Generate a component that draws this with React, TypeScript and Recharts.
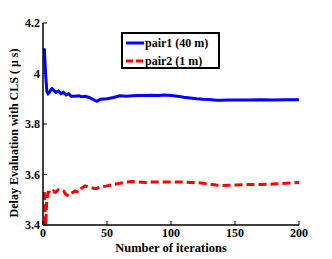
import React from 'react';
import { LineChart, Line, XAxis, YAxis, Label } from 'recharts';

const iterations = [1,2,3,4,5,6,7,8,9,10,12,14,16,18,20,22,25,28,30,33,36,40,42,45,50,55,60,65,70,75,80,85,90,95,100,105,110,115,120,125,130,135,140,145,150,160,170,180,190,200];
const pair1 = [4.10,4.00,3.93,3.92,3.925,3.935,3.94,3.935,3.93,3.925,3.93,3.92,3.925,3.915,3.92,3.91,3.91,3.912,3.908,3.91,3.905,3.895,3.89,3.898,3.9,3.905,3.912,3.91,3.912,3.913,3.913,3.914,3.913,3.915,3.913,3.91,3.906,3.903,3.9,3.898,3.897,3.894,3.894,3.895,3.895,3.895,3.896,3.895,3.896,3.896];
const pair2 = [3.53,3.40,3.50,3.53,3.53,3.525,3.53,3.535,3.53,3.53,3.54,3.54,3.535,3.52,3.515,3.525,3.535,3.53,3.545,3.555,3.55,3.545,3.545,3.55,3.555,3.56,3.565,3.57,3.572,3.57,3.568,3.57,3.57,3.57,3.57,3.57,3.57,3.568,3.568,3.565,3.562,3.558,3.556,3.557,3.558,3.56,3.56,3.562,3.565,3.568];
const xTicks = [0, 50, 100, 150, 200];
const yTicks = [3.4, 3.6, 3.8, 4, 4.2];
const seriesNames = ['pair1 (40 m)', 'pair2 (1 m)'];

const data = iterations.map((it, i) => ({ it, pair1: pair1[i], pair2: pair2[i] }));

const FONT = '"Liberation Serif", "Times New Roman", serif';

const YTick = (props: any) => {
  const { x, y, payload } = props;
  return (
    <g>
      <line x1={x + 3} x2={x + 7} y1={y} y2={y} stroke="#000" strokeWidth={1} />
      <text x={x} y={y} dy={4} textAnchor="end" fontFamily={FONT} fontWeight="bold" fontSize={12} fill="#000">
        {payload.value}
      </text>
    </g>
  );
};

const XTick = (props: any) => {
  const { x, y, payload } = props;
  return (
    <g>
      <line x1={x} x2={x} y1={y - 3} y2={y - 7} stroke="#000" strokeWidth={1} />
      <text x={x} y={y} dy={9} textAnchor="middle" fontFamily={FONT} fontWeight="bold" fontSize={12} fill="#000">
        {payload.value}
      </text>
    </g>
  );
};

const LegendBox = () => (
  <div style={{ position: 'absolute', left: 121, top: 32, width: 95, height: 33, border: '2px solid #000', background: '#fff' }}>
    <svg width={95} height={33} style={{ display: 'block' }}>
      <line x1={3} x2={21} y1={9} y2={9} stroke="#0000ff" strokeWidth={3} />
      <text x={22} y={13} fontFamily={FONT} fontWeight="bold" fontSize={12} fill="#000">{seriesNames[0]}</text>
      <line x1={3} x2={21} y1={27} y2={27} stroke="#ff0000" strokeWidth={3} strokeDasharray="7 3" />
      <text x={22} y={31} fontFamily={FONT} fontWeight="bold" fontSize={12} fill="#000">{seriesNames[1]}</text>
    </svg>
  </div>
);

export default function App() {
  return (
    <div style={{ position: 'absolute', left: 0, top: 0, width: 332, height: 259, background: '#fff' }}>
      <LineChart width={332} height={259} data={data} margin={{ top: 23, right: 33, bottom: 0, left: 0 }}>
        <XAxis
          dataKey="it"
          type="number"
          domain={[0, 200]}
          ticks={xTicks}
          height={34}
          tickLine={false}
          tickSize={0}
          tickMargin={3}
          tick={<XTick />}
          axisLine={{ stroke: '#000', strokeWidth: 1.5 }}
          interval={0}
        >
          <Label
            content={() => (
              <text x={171} y={251.5} textAnchor="middle" fontFamily={FONT} fontWeight="bold" fontSize={12.5} fill="#000">
                Number of iterations
              </text>
            )}
          />
        </XAxis>
        <YAxis
          type="number"
          domain={[3.4, 4.2]}
          ticks={yTicks}
          width={43}
          tickLine={false}
          tickSize={0}
          tickMargin={3}
          tick={<YTick />}
          axisLine={{ stroke: '#000', strokeWidth: 1.5 }}
          interval={0}
          allowDataOverflow
        >
          <Label
            content={() => (
              <text x={18} y={133} transform="rotate(-90 18 133)" textAnchor="middle" fontFamily={FONT} fontWeight="bold" fontSize={12} fill="#000">
                Delay Evaluation with CLS ( μ s)
              </text>
            )}
          />
        </YAxis>
        <Line dataKey="pair1" name={seriesNames[0]} stroke="#0000ff" strokeWidth={3} dot={false} isAnimationActive={false} />
        <Line dataKey="pair2" name={seriesNames[1]} stroke="#ff0000" strokeWidth={3} strokeDasharray="8 4" dot={false} isAnimationActive={false} />
      </LineChart>
      <LegendBox />
    </div>
  );
}
